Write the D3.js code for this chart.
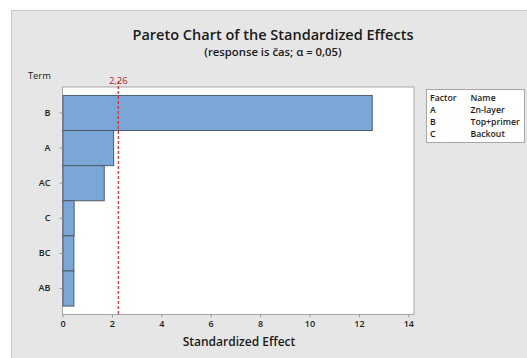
<!DOCTYPE html>
<html>
<head>
<meta charset="utf-8">
<script src="https://cdn.jsdelivr.net/npm/d3@7"></script>
<style>
  html, body { margin: 0; padding: 0; background: #fff; }
  svg { display: block; font-family: "Open Sans", "Noto Sans", sans-serif; }
</style>
</head>
<body>
<svg id="chart" width="527" height="358"></svg>
<script>
// Pareto chart of standardized effects (sorted, largest on top)
const terms = ["B", "A", "AC", "C", "BC", "AB"];
const effects = [12.52, 2.05, 1.67, 0.45, 0.44, 0.44];
const xTicks = [0, 2, 4, 6, 8, 10, 12, 14];
const criticalValue = 2.26;
const criticalLabel = "2,26";
const legendHeader = ["Factor", "Name"];
const factorCodes = ["A", "B", "C"];
const factorNames = ["Zn-layer", "Top+primer", "Backout"];

const svg = d3.select("#chart");

// panel background
svg.append("rect")
  .attr("x", 11.5).attr("y", 10.5)
  .attr("width", 530).attr("height", 360)
  .attr("fill", "#e6e6e6").attr("stroke", "#c9c9c9");

const plot = { left: 62.5, top: 87, right: 414, bottom: 314.5 };

const x = d3.scaleLinear().domain([0, 14]).range([plot.left, 408.3]);
const y = d3.scaleBand().domain(terms)
  .range([plot.top, plot.bottom])
  .paddingInner(0).paddingOuter(0.24);

// plot area
svg.append("rect")
  .attr("x", plot.left).attr("y", plot.top)
  .attr("width", plot.right - plot.left).attr("height", plot.bottom - plot.top)
  .attr("fill", "#fff").attr("stroke", "#a6a6a6").attr("stroke-width", 1);

// bars
svg.append("g").selectAll("rect")
  .data(terms.map((t, i) => ({ term: t, value: effects[i] })))
  .join("rect")
  .attr("x", x(0) + 0.5)
  .attr("y", d => y(d.term))
  .attr("width", d => x(d.value) - x(0))
  .attr("height", y.bandwidth())
  .attr("fill", "#7ba7d8")
  .attr("stroke", "#4e5a66")
  .attr("stroke-width", 1);

// critical value reference line
svg.append("line")
  .attr("x1", x(criticalValue)).attr("x2", x(criticalValue))
  .attr("y1", plot.top - 6).attr("y2", plot.bottom)
  .attr("stroke", "#e0262b").attr("stroke-width", 1.2)
  .attr("stroke-dasharray", "3,2");

svg.append("text")
  .attr("x", x(criticalValue)).attr("y", 83.5)
  .attr("text-anchor", "middle")
  .attr("font-size", 9.5).attr("fill", "#b0282c")
  .text(criticalLabel);

// x axis
const xAxis = svg.append("g")
  .attr("transform", `translate(0,${plot.bottom})`)
  .call(d3.axisBottom(x).tickValues(xTicks).tickSize(3).tickPadding(3).tickFormat(d3.format("d")));
xAxis.select(".domain").remove();
xAxis.selectAll(".tick line").attr("stroke", "#9a9a9a");
xAxis.selectAll(".tick text")
  .attr("font-family", "'Open Sans', sans-serif")
  .attr("font-size", 9).attr("font-weight", 600).attr("fill", "#222");

// y axis
const yAxis = svg.append("g")
  .attr("transform", `translate(${plot.left},0)`)
  .call(d3.axisLeft(y).tickSize(3).tickPadding(9));
yAxis.select(".domain").remove();
yAxis.selectAll(".tick line").attr("stroke", "#9a9a9a");
yAxis.selectAll(".tick text")
  .attr("font-family", "'Open Sans', sans-serif")
  .attr("font-size", 9).attr("font-weight", 600).attr("fill", "#222");

// titles
svg.append("text")
  .attr("x", 273).attr("y", 39.5).attr("text-anchor", "middle")
  .attr("font-size", 14.5).attr("font-weight", 600).attr("fill", "#1a1a1a")
  .text("Pareto Chart of the Standardized Effects");
svg.append("text")
  .attr("x", 273).attr("y", 56).attr("text-anchor", "middle")
  .attr("font-size", 11.3).attr("font-weight", 600).attr("fill", "#1a1a1a")
  .text("(response is čas; α = 0,05)");

svg.append("text")
  .attr("x", 28).attr("y", 79)
  .attr("font-size", 9.3).attr("fill", "#1a1a1a")
  .text("Term");

svg.append("text")
  .attr("x", 239).attr("y", 346).attr("text-anchor", "middle")
  .attr("font-size", 12).attr("font-weight", 600).attr("fill", "#1a1a1a")
  .text("Standardized Effect");

// factor legend
const lg = svg.append("g");
lg.append("rect")
  .attr("x", 426.5).attr("y", 89.5).attr("width", 98).attr("height", 53)
  .attr("fill", "#fff").attr("stroke", "#a6a6a6");
const colX = [430, 470.5];
const rowY = [101, 112.5, 124.5, 136.5];
const rows = [legendHeader].concat(factorCodes.map((c, i) => [c, factorNames[i]]));
rows.forEach((r, i) => {
  r.forEach((txt, j) => {
    lg.append("text")
      .attr("x", colX[j]).attr("y", rowY[i])
      .attr("font-size", 8.7).attr("font-weight", 600).attr("fill", "#1a1a1a")
      .text(txt);
  });
});
</script>
</body>
</html>
